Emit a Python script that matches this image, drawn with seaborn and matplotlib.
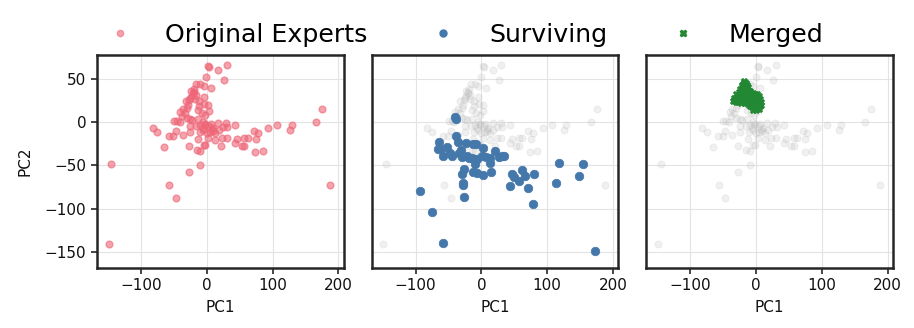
import numpy as np
import pandas as pd
import matplotlib
matplotlib.use("Agg")
import matplotlib.pyplot as plt
import seaborn as sns
from matplotlib.lines import Line2D

# ---- data ----
orig_pc1 = [2.5, 3.5, 30, 17, -0.5, 26, -16, -10, -4.5, 6.5, -19, -20, -23, -25, -27, -32,
            -4.5, -18, -12, -3.5, -12, 2, 3, -30, -36, -40, -33, -38, -2.5, -25, -30, -50,
            -45, -41, -14, -22, -5, -25, -16, -10, -2.5, 4, 17, 10, 18, 24, 29, 31, 43,
            -82, -75, -47, -58, -51, -36, -25, -11, -5, 0, 5, 8, 13, 2.5, -13, 13, 23, 30,
            46, 43, 57, 62, 75, 71, 78, 93, 107, 126, 129, 166, 175, 188, -27, -4, -2,
            -15, -10, 21, 53, 57, 74, 85, -65, -10, -27, -57, -47, -145, -149,
            -21, -24, -17, -28, -14, -8, -2, 6, 9, -6]
orig_pc2 = [65, 63, 66, 60, 52, 48, 44, 44, 42, 39, 38, 34, 30, 28, 25, 24,
            29, 26, 24, 21, 18, 19, 13, 16, 15, 12, 10, 6.5, 8, 3.5, 4.6, 1,
            1, 0, 3, 2, 0, -5, -5, -4, -4, -5, -1, -7, -9, -6, -1, -6, -3,
            -6.5, -12, -10, -16, -16, -15, -11, -11, -9, -13, -11, -8, -13, -18, -19, -21, -18, -18,
            -20, -24, -18, -18, -19, -10, -13, -7, -3.4, -9, -4, 0.4, 15, -72, -28, -27, -27,
            -32, -33, -28, -27.5, -27.5, -34, -33, -29, -50, -57, -72, -88, -48, -140,
            33, 36, 31, 20, 14, 10, -2, -2, -10, -7]

surv_pc1 = [-40, -39, -39, -64, -35, -23, -13, -9, -66, -62, -52, -58, -48, -44, -31, -34,
            -29, -22, -19, -14, -11, -10, -6, 2.5, 0.5, 6.6, 13, 13, 20, 27, 31, 35,
            -27, -30, -28, -28, -27, -13, -6, 3, 14, -94, -75, -59, 44, 46, 49, 57,
            62, 66, 70, 80, 78, 118, 114, 149, 155, 172]
surv_pc2 = [5.4, 4, -16, -23, -23, -24, -25, -25, -31, -31, -29, -39, -36, -39, -32, -36,
            -40, -39, -41, -41, -43, -48, -43, -30, -39, -40, -42, -47, -33, -40, -39, -39,
            -54, -60, -70, -72, -86, -58, -59, -61, -58, -79, -104, -139, -74, -60, -63, -68,
            -55, -62, -76, -60, -94, -47, -70, -62, -48, -149]

merged_pc1 = [-18, -16, -20, -14, -22, -18, -15, -12, -24, -20, -17, -13, -10, -26, -22, -18,
              -14, -8, -5, -2, 2, -30, -27, -23, -19, -15, -11, -7, -3, 1, 5, -34, -30, -26,
              -22, -18, -14, -10, -6, -2, 2, 6, -35, -31, -27, -23, -12, -8, -4, 0, 4, 7,
              -10, -6, -2, 2, 6, -4, 0, 4, 8, -33, -28, -20, -16, -11, -7, -1, 3, -21, -19,
              -25, -29, -16, -9, -5, 3, -1, -13, -17]
merged_pc2 = [47, 45, 44, 43, 41, 41, 40, 40, 38, 38, 37, 37, 36, 35, 35, 34,
              34, 33, 33, 32, 32, 32, 31, 31, 30, 30, 30, 30, 29, 29, 30, 28, 27, 27,
              26, 26, 27, 26, 26, 25, 25, 26, 24, 23, 23, 22, 23, 22, 21, 21, 22, 23,
              18, 17, 16, 17, 18, 14, 14, 15, 19, 25, 25, 29, 31, 28, 28, 28, 27, 43, 46,
              33, 29, 23, 20, 19, 20, 19, 21, 22]

labels = ["Original Experts", "Surviving", "Merged"]

red = "#EE6677"
blue = "#4477AA"
green = "#228833"
grey = "#BBBBBB"

orig = pd.DataFrame({"PC1": orig_pc1, "PC2": orig_pc2})
surv = pd.DataFrame({"PC1": surv_pc1, "PC2": surv_pc2})
merged = pd.DataFrame({"PC1": merged_pc1, "PC2": merged_pc2})

sns.set_theme(style="whitegrid")
plt.rcParams['font.family'] = ['DejaVu Sans']

fig, axes = plt.subplots(1, 3, figsize=(9.14, 3.28), dpi=100, sharex=True, sharey=True)
fig.subplots_adjust(left=0.106, right=0.977, bottom=0.183, top=0.832, wspace=0.113)

ax1, ax2, ax3 = axes
sns.scatterplot(data=orig, x="PC1", y="PC2", ax=ax1, color=red, s=24, alpha=0.6,
                edgecolor=red, linewidth=1.0)

sns.scatterplot(data=orig, x="PC1", y="PC2", ax=ax2, color=grey, s=26, alpha=0.22,
                edgecolor=grey, linewidth=0.6)
sns.scatterplot(data=surv, x="PC1", y="PC2", ax=ax2, color=blue, s=38, alpha=1.0,
                edgecolor=blue, linewidth=0.5)

sns.scatterplot(data=orig, x="PC1", y="PC2", ax=ax3, color=grey, s=26, alpha=0.22,
                edgecolor=grey, linewidth=0.6)
sns.scatterplot(data=merged, x="PC1", y="PC2", ax=ax3, color=green, s=22, marker="X",
                edgecolor=green, linewidth=0.4)

for i, ax in enumerate(axes):
    ax.set_xlim(-167, 208)
    ax.set_ylim(-168, 77)
    ax.set_xticks([-100, 0, 100, 200])
    ax.set_yticks([-150, -100, -50, 0, 50])
    ax.grid(True, color="#e3e3e3", linewidth=0.8)
    for sp in ax.spines.values():
        sp.set_color("#262626")
        sp.set_linewidth(1.8)
    ax.tick_params(axis="x", which="both", bottom=True, length=4.5, width=1.2,
                   color="#262626", labelsize=11, pad=3, labelcolor="#111111")
    ax.tick_params(axis="y", which="both", left=(i == 0), length=4.5, width=1.2,
                   color="#262626", labelsize=11, pad=3, labelcolor="#111111")
    ax.set_xlabel("PC1", fontsize=11, labelpad=5, color="#111111")
    ax.set_ylabel("PC2" if i == 0 else "", fontsize=11, labelpad=9, color="#111111")
    if ax.get_legend() is not None:
        ax.get_legend().remove()

handles = [
    Line2D([], [], linestyle="none", marker="o", color=red, alpha=0.6, markersize=4.5),
    Line2D([], [], linestyle="none", marker="o", color=blue, markersize=5),
    Line2D([], [], linestyle="none", marker="X", color=green, markersize=5),
]
leg = fig.legend(handles, labels, loc="upper center", ncol=3, frameon=False, fontsize=18.2,
                 bbox_to_anchor=(0.502, 1.0), handletextpad=0.8, columnspacing=2.0)
for t in leg.get_texts():
    t.set_color("black")

fig.savefig("out.png", dpi=100)
